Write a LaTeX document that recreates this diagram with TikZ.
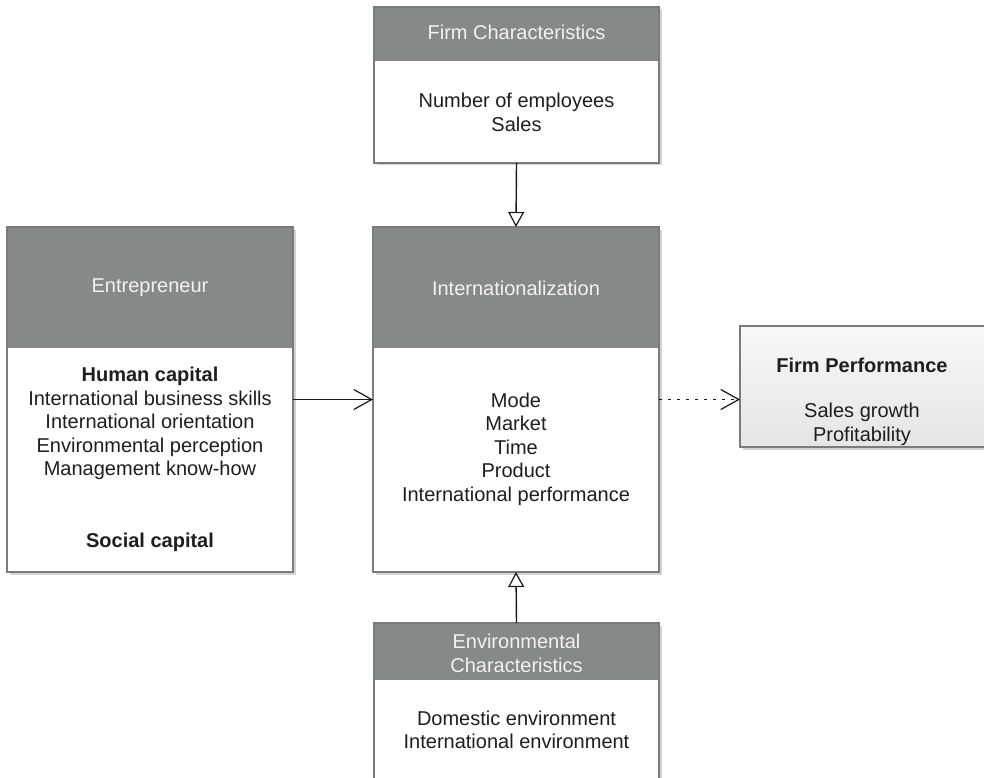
\documentclass[tikz,border=0pt]{standalone}
\usepackage{fontspec}
\setmainfont{Liberation Sans}
\usetikzlibrary{arrows.meta,calc,shadows}
\definecolor{hdrgray}{HTML}{868989}
\definecolor{hdrtext}{HTML}{F2F2F2}
\definecolor{bodytext}{HTML}{1E1E1E}
\definecolor{boxline}{HTML}{7A7C7C}
\definecolor{fptop}{HTML}{F8F8F8}
\definecolor{fpbot}{HTML}{E4E5E5}
\begin{document}
\begin{tikzpicture}[x=1pt,y=-1pt,
  box/.style={draw=boxline, line width=1.2pt, fill=white, inner sep=0pt, outer sep=0pt, anchor=north west,
    drop shadow={opacity=0.35, shadow xshift=2.5pt, shadow yshift=-2.5pt}},
  hdr/.style={fill=hdrgray},
  frame/.style={draw=boxline, line width=1.2pt},
  htext/.style={text=hdrtext, align=center, font=\fontsize{20}{23.5}\selectfont},
  btext/.style={text=bodytext, align=center, font=\fontsize{20}{23.5}\selectfont},
  conn/.style={line width=1.4pt, draw=black!90},
  tri/.style={-{Triangle[open, width=16pt, length=15pt, line width=1.2pt]}},
  barb/.style={-{Straight Barb[width=20pt, length=18pt, line width=1.2pt]}}
]
\useasboundingbox (0,0) rectangle (984,778);
\clip (0,0) rectangle (984,778);

% Firm Characteristics
\node[box, minimum width=285pt, minimum height=156pt] (fc) at (374,7) {};
\fill[hdr] (fc.north west) rectangle ($(fc.north east)+(0,54)$);
\draw[frame] (fc.north west) rectangle (fc.south east);
\node[htext] (fch) at (516.5,32) {Firm Characteristics};
\node[btext] (fcb) at (516.5,112.5) {Number of employees\\Sales};

% Entrepreneur
\node[box, minimum width=286pt, minimum height=345pt] (ent) at (7,227) {};
\fill[hdr] (ent.north west) rectangle ($(ent.north east)+(0,121)$);
\draw[frame] (ent.north west) rectangle (ent.south east);
\node[htext] (enth) at (150,288) {Entrepreneur};
\node[btext] (entb) at (150,423.5) {\textbf{Human capital}\\International business skills\\International orientation\\Environmental perception\\Management know-how};
\node[btext] (ents) at (150,542) {\textbf{Social capital}};

% Internationalization
\node[box, minimum width=286pt, minimum height=345pt] (int) at (373,227) {};
\fill[hdr] (int.north west) rectangle ($(int.north east)+(0,121)$);
\draw[frame] (int.north west) rectangle (int.south east);
\node[htext] (inth) at (516,288) {Internationalization};
\node[btext] (intb) at (516,449) {Mode\\Market\\Time\\Product\\International performance};

% Firm Performance
\node[box, minimum width=250pt, minimum height=121pt, top color=fptop, bottom color=fpbot] (fp) at (740,326) {};
\node[btext] (fph) at (862,365) {\textbf{Firm Performance}};
\node[btext] (fpb) at (862,424.5) {Sales growth\\Profitability};

% Environmental Characteristics
\node[box, minimum width=285pt, minimum height=180pt] (env) at (374,623) {};
\fill[hdr] (env.north west) rectangle ($(env.north east)+(0,57)$);
\draw[frame] (env.north west) rectangle (env.south east);
\node[htext] (envh) at (516.5,653.5) {Environmental\\Characteristics};
\node[btext] (envb) at (516.5,730) {Domestic environment\\International environment};

% Connectors
\draw[conn, tri] (fc.south) -- (int.north);
\draw[conn, tri] (env.north) -- (int.south);
\draw[conn, barb] (ent.east) -- (int.west);
\draw[conn, barb, dash pattern=on 3pt off 6pt] (int.east) -- (int.east -| fp.west);
\end{tikzpicture}
\end{document}
